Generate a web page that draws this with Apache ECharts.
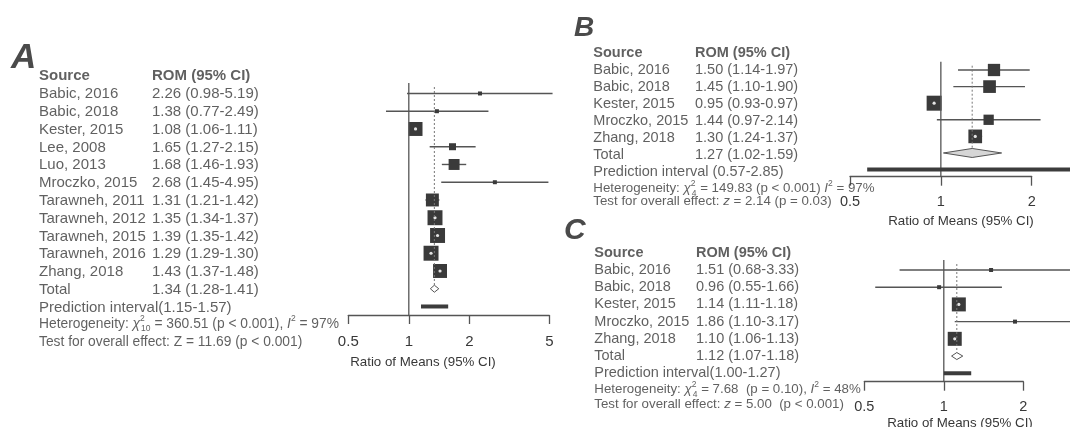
<!DOCTYPE html>
<html>
<head>
<meta charset="utf-8">
<script src="https://cdn.jsdelivr.net/npm/echarts@6/dist/echarts.min.js"></script>
<style>
  html, body { margin: 0; padding: 0; background: #fff; }
  #chart { width: 1070px; height: 427px; }
</style>
</head>
<body>
<div id="chart"></div>
<script>
// ---- panel A : all studies ----
const studiesA = ['Babic, 2016', 'Babic, 2018', 'Kester, 2015', 'Lee, 2008', 'Luo, 2013', 'Mroczko, 2015',
  'Tarawneh, 2011', 'Tarawneh, 2012', 'Tarawneh, 2015', 'Tarawneh, 2016', 'Zhang, 2018'];
const romA = [2.26, 1.38, 1.08, 1.65, 1.68, 2.68, 1.31, 1.35, 1.39, 1.29, 1.43];
const lowA = [0.98, 0.77, 1.06, 1.27, 1.46, 1.45, 1.21, 1.34, 1.35, 1.29, 1.37];
const highA = [5.19, 2.49, 1.11, 2.15, 1.93, 4.95, 1.42, 1.37, 1.42, 1.30, 1.48];
const weightA = [1.1, 1.1, 13.5, 3.4, 8.3, 1.1, 11.6, 15.5, 15.5, 15.5, 13.5];
const totalA = [1.34, 1.28, 1.41];
const predA = [1.15, 1.57];
const hetA = 'Heterogeneity: {it|χ}{supz|2}{sub|10} = 360.51 (p < 0.001), {it|I}{sup|2} = 97%';
const testA = 'Test for overall effect: Z = 11.69 (p < 0.001)';
const ticksA = [0.5, 1, 2, 5];

// ---- panel B ----
const studiesB = ['Babic, 2016', 'Babic, 2018', 'Kester, 2015', 'Mroczko, 2015', 'Zhang, 2018'];
const romB = [1.50, 1.45, 0.95, 1.44, 1.30];
const lowB = [1.14, 1.10, 0.93, 0.97, 1.24];
const highB = [1.97, 1.90, 0.97, 2.14, 1.37];
const weightB = [18.2, 19.4, 27.1, 12.8, 22.6];
const totalB = [1.27, 1.02, 1.59];
const predB = [0.57, 2.85];
const hetB = 'Heterogeneity: {it|χ}{supz|2}{sub|4} = 149.83 (p < 0.001) {it|I}{sup|2} = 97%';
const testB = 'Test for overall effect: {it|z} = 2.14 (p = 0.03)';
const ticksB = [0.5, 1, 2];

// ---- panel C ----
const studiesC = ['Babic, 2016', 'Babic, 2018', 'Kester, 2015', 'Mroczko, 2015', 'Zhang, 2018'];
const romC = [1.51, 0.96, 1.14, 1.86, 1.10];
const lowC = [0.68, 0.55, 1.11, 1.10, 1.06];
const highC = [3.33, 1.66, 1.18, 3.17, 1.13];
const weightC = [3.6, 3.6, 44.5, 3.6, 44.5];
const totalC = [1.12, 1.07, 1.18];
const predC = [1.00, 1.27];
const hetC = 'Heterogeneity: {it|χ}{supz|2}{sub|4} = 7.68  (p = 0.10), {it|I}{sup|2} = 48%';
const testC = 'Test for overall effect: {it|z} = 5.00  (p < 0.001)';
const ticksC = [0.5, 1, 2];

const FONT = '"Liberation Sans", Arial, sans-serif';
const TEXT = '#383838';
const LINE = '#555';
const BOX = '#3a3a3a';

const grids = [];
const xAxes = [];
const yAxes = [];
const series = [];

function fmtCI(e, l, h) {
  return e.toFixed(2) + ' (' + l.toFixed(2) + '-' + h.toFixed(2) + ')';
}

function richFor(size) {
  return {
    it: { fontFamily: FONT, fontSize: size, fontStyle: 'italic', color: TEXT, lineHeight: 19 },
    sup: { fontFamily: FONT, fontSize: 8.5, color: TEXT, verticalAlign: 'top' },
    supz: { fontFamily: FONT, fontSize: 8.5, color: TEXT, verticalAlign: 'top', width: 1 },
    sub: { fontFamily: FONT, fontSize: 8.5, color: TEXT, verticalAlign: 'bottom' }
  };
}

function addPanel(p) {
  const n = p.studies.length;

  // ----- text table -----
  const ti = grids.length;
  grids.push({ left: p.tab.left, top: p.tab.top, width: 400, height: p.tab.height });
  xAxes.push({ gridIndex: ti, type: 'value', min: 0, max: 400, show: false });
  yAxes.push({ gridIndex: ti, type: 'value', min: -1, max: p.tab.maxRow, inverse: true, show: false });

  const cells = [
    { value: [0, -1], label: { formatter: 'Source', fontWeight: 'bold' } },
    { value: [p.tab.romX, -1], label: { formatter: 'ROM (95% CI)', fontWeight: 'bold' } }
  ];
  p.studies.forEach((s, i) => {
    cells.push({ value: [0, i], label: { formatter: s } });
    cells.push({ value: [p.tab.romX, i], label: { formatter: fmtCI(p.rom[i], p.low[i], p.high[i]) } });
  });
  cells.push({ value: [0, n], label: { formatter: 'Total' } });
  cells.push({ value: [p.tab.romX, n], label: { formatter: fmtCI(p.total[0], p.total[1], p.total[2]) } });
  cells.push({ value: [0, n + 1], label: { formatter: 'Prediction interval' + p.predSep + '(' + p.pred[0].toFixed(2) + '-' + p.pred[1].toFixed(2) + ')' } });
  cells.push({ value: [0, p.tab.hetRow], label: { formatter: p.het, fontSize: p.tab.foot, lineHeight: 19, rich: richFor(p.tab.foot) } });
  cells.push({ value: [0, p.tab.testRow], label: { formatter: p.test, fontSize: p.tab.foot, lineHeight: 19, rich: richFor(p.tab.foot) } });

  series.push({
    type: 'scatter', xAxisIndex: ti, yAxisIndex: ti, symbolSize: 0, silent: true, clip: false,
    label: { show: true, position: 'right', distance: 0, color: TEXT, fontFamily: FONT, fontSize: p.tab.font },
    data: cells
  });

  // ----- forest plot -----
  const pi = grids.length;
  grids.push({ left: p.plot.left, top: p.plot.top, width: p.plot.width, height: p.plot.height });
  xAxes.push({
    gridIndex: pi, type: 'log', logBase: 10, min: p.plot.xMin, max: p.plot.xMax, position: 'bottom',
    axisLine: { show: true, onZero: false, lineStyle: { color: LINE, width: 1.3 } },
    axisTick: { show: true, length: 9, customValues: p.ticks, lineStyle: { color: LINE, width: 1.3 } },
    axisLabel: { customValues: p.ticks, margin: p.plot.labelMargin, color: TEXT, fontFamily: FONT, fontSize: p.plot.labelFont, formatter: v => String(v) },
    splitLine: { show: false }, minorTick: { show: false }
  });
  yAxes.push({ gridIndex: pi, type: 'value', min: p.plot.yMin, max: p.plot.yMax, inverse: true, show: false });

  const rows = p.studies.map((s, i) => [p.rom[i], p.low[i], p.high[i], i, p.weight[i]]);
  series.push({
    type: 'custom', xAxisIndex: pi, yAxisIndex: pi, silent: true, clip: false,
    encode: { x: [0, 1, 2], y: 3 },
    data: rows,
    renderItem: function (params, api) {
      const row = api.value(3);
      const pe = api.coord([api.value(0), row]);
      const pl = api.coord([api.value(1), row]);
      const ph = api.coord([api.value(2), row]);
      const s = Math.max(p.boxScale * Math.sqrt(api.value(4)), 4);
      const kids = [
        { type: 'line', shape: { x1: pl[0], y1: pl[1], x2: ph[0], y2: ph[1] }, style: { stroke: LINE, lineWidth: 1.4 } },
        { type: 'rect', shape: { x: pe[0] - s / 2, y: pe[1] - s / 2, width: s, height: s }, style: { fill: BOX } }
      ];
      if (s > 8 && ph[0] - pl[0] < s) {
        kids.push({ type: 'circle', shape: { cx: pe[0], cy: pe[1], r: 1.6 }, style: { fill: '#e4e4e4' } });
      }
      return { type: 'group', children: kids };
    }
  });

  series.push({
    type: 'custom', xAxisIndex: pi, yAxisIndex: pi, silent: true, clip: false,
    encode: { x: [0, 1, 2, 4, 5], y: 3 },
    data: [[p.total[0], p.total[1], p.total[2], n, p.pred[0], p.pred[1]]],
    renderItem: function (params, api) {
      const cs = params.coordSys;
      const row = api.value(3);
      const one = api.coord([1, row]);
      const pe = api.coord([api.value(0), row]);
      const pl = api.coord([api.value(1), row]);
      const ph = api.coord([api.value(2), row]);
      const q1 = api.coord([api.value(4), row + 1]);
      const q2 = api.coord([api.value(5), row + 1]);
      const h = p.diamondH;
      return {
        type: 'group',
        children: [
          { type: 'line', shape: { x1: one[0], y1: cs.y, x2: one[0], y2: cs.y + cs.height }, style: { stroke: LINE, lineWidth: 1.3 } },
          { type: 'line', shape: { x1: pe[0], y1: cs.y + 4, x2: pe[0], y2: pe[1] - h }, style: { stroke: '#777', lineWidth: 1, lineDash: [2, 2] } },
          { type: 'polygon', shape: { points: [[pl[0], pe[1]], [pe[0], pe[1] - h], [ph[0], pe[1]], [pe[0], pe[1] + h]] },
            style: { fill: p.diamondFill, stroke: '#555', lineWidth: 1 } },
          { type: 'line', shape: { x1: q1[0], y1: q1[1], x2: q2[0], y2: q2[1] }, style: { stroke: '#3c3c3c', lineWidth: 4 } }
        ]
      };
    }
  });
}

addPanel({
  studies: studiesA, rom: romA, low: lowA, high: highA, weight: weightA, total: totalA, pred: predA,
  het: hetA, test: testA, ticks: ticksA, predSep: '', boxScale: 3.8, diamondH: 3.5, diamondFill: '#fff',
  tab: { left: 39, top: 76.2, height: 267, maxRow: 14, romX: 113, font: 15, foot: 13.8, hetRow: 12.92, testRow: 13.93 },
  plot: { left: 348.3, width: 201, top: 83, height: 232, yMin: -0.59, yMax: 12.48, xMin: 0.5, xMax: 5, labelFont: 15, labelMargin: 19 }
});
addPanel({
  studies: studiesB, rom: romB, low: lowB, high: highB, weight: weightB, total: totalB, pred: predB,
  het: hetB, test: testB, ticks: ticksB, predSep: ' ', boxScale: 2.88, diamondH: 4.5, diamondFill: '#d6d6d6',
  tab: { left: 593.3, top: 53.05, height: 152.55, maxRow: 8, romX: 101.7, font: 14.5, foot: 13.3, hetRow: 6.98, testRow: 7.77 },
  plot: { left: 850, width: 181.7, top: 61.7, height: 115, yMin: -0.5, yMax: 6.43, xMin: 0.5, xMax: 2, labelFont: 14.5, labelMargin: 17.8 }
});
addPanel({
  studies: studiesC, rom: romC, low: lowC, high: highC, weight: weightC, total: totalC, pred: predC,
  het: hetC, test: testC, ticks: ticksC, predSep: '', boxScale: 2.1, diamondH: 3.5, diamondFill: '#fff',
  tab: { left: 594.3, top: 252.8, height: 154.8, maxRow: 8, romX: 101.7, font: 14.5, foot: 13.3, hetRow: 6.94, testRow: 7.79 },
  plot: { left: 864.3, width: 159, top: 260, height: 121.7, yMin: -0.58, yMax: 6.49, xMin: 0.5, xMax: 2, labelFont: 14.5, labelMargin: 17.8 }
});

function letter(t, x, y, size) {
  return { type: 'text', x: x, y: y, silent: true,
    style: { text: t, font: 'italic bold ' + size + 'px ' + FONT, fill: '#4a4a4a', textVerticalAlign: 'middle' } };
}
function axisName(x, y) {
  return { type: 'text', x: x, y: y, silent: true,
    style: { text: 'Ratio of Means (95% CI)', font: '13.3px ' + FONT, fill: TEXT, textAlign: 'center', textVerticalAlign: 'middle' } };
}

const chart = echarts.init(document.getElementById('chart'), null, { renderer: 'canvas' });
chart.setOption({
  animation: false,
  backgroundColor: '#fff',
  grid: grids,
  xAxis: xAxes,
  yAxis: yAxes,
  series: series,
  graphic: [
    letter('A', 11, 58, 35),
    letter('B', 574, 28, 28),
    letter('C', 564, 231, 30),
    axisName(423, 362),
    axisName(961, 221),
    axisName(960, 423)
  ]
});
</script>
</body>
</html>
